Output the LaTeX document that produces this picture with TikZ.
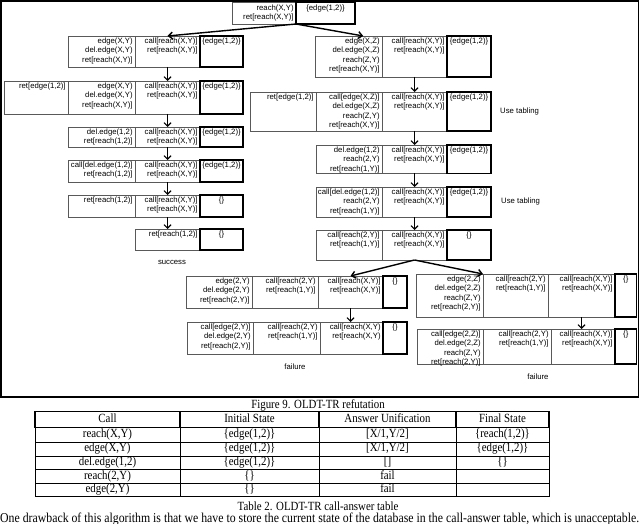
\documentclass[tikz,border=0pt]{standalone}
\usepackage{fontspec}
\setmainfont{Liberation Serif}
\newfontfamily\dgsans{Liberation Sans}
\newfontfamily\tabserif{Liberation Serif}[FakeStretch=0.87]
\usepackage{graphicx}
\usetikzlibrary{arrows.meta,calc}
\tikzset{
  cell/.style={draw=black!65, line width=0.6pt, inner sep=0pt, outer sep=0pt, anchor=north west},
  tcell/.style={draw=black, line width=1.7pt, inner sep=0pt, outer sep=0pt, anchor=north west},
  rtxt/.style={font=\dgsans\fontsize{7.75}{9.2}\selectfont, align=right, anchor=north east, inner sep=0pt},
  ctxt/.style={font=\dgsans\fontsize{7.75}{9.2}\selectfont, align=center, anchor=north, inner sep=0pt},
  note/.style={font=\dgsans\fontsize{7.75}{9.2}\selectfont, inner sep=0pt},
  arr/.style={line width=1.1pt, -{Straight Barb[length=3.5pt,width=7pt]}},
  brarr/.style={line width=1.4pt, -{Straight Barb[length=4pt,width=7pt]}},
  frameline/.style={line width=1.4pt},
  tabhead/.style={line width=1.8pt},
  tabrule/.style={line width=0.9pt},
  tab/.style={font=\tabserif\fontsize{12.5}{14}\selectfont, text height=8.2pt, text depth=2.5pt, inner sep=0pt, anchor=center},
  captxt/.style={font=\tabserif\fontsize{12.5}{14}\selectfont, inner sep=0pt, anchor=center}
}
\newcommand\dgbox[6]{%
  \node[cell, minimum width={(#4-#2)*1pt}, minimum height={(#5-#3)*1pt}] (#1) at (#2,#3) {};
  \node[rtxt] (#1t) at ([xshift=-2.2pt,yshift=-1.8pt]#1.north east) {#6};}
\newcommand\dgtbox[6]{%
  \node[tcell, minimum width={(#4-#2)*1pt}, minimum height={(#5-#3)*1pt}] (#1) at (#2,#3) {};
  \node[ctxt] (#1t) at ([yshift=-1.8pt]#1.north) {#6};}
\begin{document}
\begin{tikzpicture}[x=1pt,y=-1pt]
\useasboundingbox (0,0) rectangle (640,524);
% frame
\draw[frameline] (1,1) rectangle (638.3,397);
% top
\dgbox{T1}{232}{2.5}{296}{24}{reach(X,Y)\\ret[reach(X,Y)]}
\dgtbox{T2}{296}{2.5}{355}{24}{\{edge(1,2)\}}
% left column
\dgbox{L2a}{68}{36}{135}{67}{edge(X,Y)\\del.edge(X,Y)\\ret[reach(X,Y)]}
\dgbox{L2b}{135}{36}{200}{67}{call[reach(X,Y)]\\ret[reach(X,Y)]}
\dgtbox{L2c}{200}{36}{243}{67}{\{edge(1,2)\}}
\dgbox{L3a}{4}{81}{68}{114}{ret[edge(1,2)]}
\dgbox{L3b}{68}{81}{135}{114}{edge(X,Y)\\del.edge(X,Y)\\ret[reach(X,Y)]}
\dgbox{L3c}{135}{81}{200}{114}{call[reach(X,Y)]\\ret[reach(X,Y)]}
\dgtbox{L3d}{200}{81}{243}{114}{\{edge(1,2)\}}
\dgbox{L4a}{68}{127}{135}{147}{del.edge(1,2)\\ret[reach(1,2)]}
\dgbox{L4b}{135}{127}{200}{147}{call[reach(X,Y)]\\ret[reach(X,Y)]}
\dgtbox{L4c}{200}{127}{243}{147}{\{edge(1,2)\}}
\dgbox{L5a}{68}{160}{135}{182}{call[del.edge(1,2)]\\ret[reach(1,2)]}
\dgbox{L5b}{135}{160}{200}{182}{call[reach(X,Y)]\\ret[reach(X,Y)]}
\dgtbox{L5c}{200}{160}{243}{182}{\{edge(1,2)\}}
\dgbox{L6a}{68}{195}{135}{217}{ret[reach(1,2)]}
\dgbox{L6b}{135}{195}{200}{217}{call[reach(X,Y)]\\ret[reach(X,Y)]}
\dgtbox{L6c}{200}{195}{243}{217}{\{\}}
\dgbox{L7b}{135}{229}{200}{250}{ret[reach(1,2)]}
\dgtbox{L7c}{200}{229}{243}{250}{\{\}}
\node[note] (succ) at (172,262.3) {success};
% right column
\dgbox{R2a}{315}{36}{382}{77}{edge(X,Z)\\del.edge(X,Z)\\reach(Z,Y)\\ret[reach(X,Y)]}
\dgbox{R2b}{382}{36}{447}{77}{call[reach(X,Y)]\\ret[reach(X,Y)]}
\dgtbox{R2c}{447}{36}{491}{77}{\{edge(1,2)\}}
\dgbox{R3a}{250}{92}{316}{131}{ret[edge(1,2)]}
\dgbox{R3b}{316}{92}{382}{131}{call[edge(X,Z)]\\del.edge(X,Z)\\reach(Z,Y)\\ret[reach(X,Y)]}
\dgbox{R3c}{382}{92}{447}{131}{call[reach(X,Y)]\\ret[reach(X,Y)]}
\dgtbox{R3d}{447}{92}{491}{131}{\{edge(1,2)\}}
\node[note, anchor=west] (tab1) at (500,111.7) {Use tabling};
\dgbox{R4a}{316}{145}{382}{173.5}{del.edge(1,2)\\reach(2,Y)\\ret[reach(1,Y)]}
\dgbox{R4b}{382}{145}{447}{173.5}{call[reach(X,Y)]\\ret[reach(X,Y)]}
\dgtbox{R4c}{447}{145}{491}{173.5}{\{edge(1,2)\}}
\dgbox{R5a}{316}{187}{382}{217}{call[del.edge(1,2)]\\reach(2,Y)\\ret[reach(1,Y)]}
\dgbox{R5b}{382}{187}{447}{217}{call[reach(X,Y)]\\ret[reach(X,Y)]}
\dgtbox{R5c}{447}{187}{491}{217}{\{edge(1,2)\}}
\node[note, anchor=west] (tab2) at (501,201) {Use tabling};
\dgbox{R6a}{316}{230}{382}{260}{call[reach(2,Y)]\\ret[reach(1,Y)]}
\dgbox{R6b}{382}{230}{447}{260}{call[reach(X,Y)]\\ret[reach(X,Y)]}
\dgtbox{R6c}{447}{230}{491}{260}{\{\}}
% bottom left group
\dgbox{BL1a}{186}{276}{252}{308}{edge(2,Y)\\del.edge(2,Y)\\ret[reach(2,Y)]}
\dgbox{BL1b}{252}{276}{318}{308}{call[reach(2,Y)\\ret[reach(1,Y)]}
\dgbox{BL1c}{318}{276}{383}{308}{call[reach(X,Y)]\\ret[reach(X,Y)]}
\dgtbox{BL1d}{383}{276}{407}{308}{\{\}}
\dgbox{BL2a}{187}{322}{253}{354}{call[edge(2,Y)]\\del.edge(2,Y)\\ret[reach(2,Y)]}
\dgbox{BL2b}{253}{322}{320}{354}{call[reach(2,Y)\\ret[reach(1,Y)]}
\dgbox{BL2c}{320}{322}{383}{354}{call[reach(X,Y)\\ret[reach(X,Y)}
\dgtbox{BL2d}{383}{322}{407}{354}{\{\}}
\node[note] (fail1) at (295,366.7) {failure};
% bottom right group
\dgbox{BR1a}{416}{274}{483}{317}{edge(2,Z)\\del.edge(2,Z)\\reach(Z,Y)\\ret[reach(2,Y)]}
\dgbox{BR1b}{483}{274}{548}{317}{call[reach(2,Y)\\ret[reach(1,Y)]}
\dgbox{BR1c}{548}{274}{615}{317}{call[reach(X,Y)]\\ret[reach(X,Y)]}
\dgtbox{BR1d}{615}{274}{636.5}{317}{\{\}}
\dgbox{BR2a}{417}{329}{483}{364}{call[edge(2,Z)]\\del.edge(2,Z)\\reach(Z,Y)\\ret[reach(2,Y)]}
\dgbox{BR2b}{483}{329}{551}{364}{call[reach(2,Y)\\ret[reach(1,Y)]}
\dgbox{BR2c}{551}{329}{615}{364}{call[reach(X,Y)]\\ret[reach(X,Y)]}
\dgtbox{BR2d}{615}{329}{636.5}{364}{\{\}}
\node[note] (fail2) at (538,376.7) {failure};
% connectors
\draw[brarr] (T1.south east) -- (L2b.north);
\draw[brarr] (T1.south east) -- ($(R2a.north west)!0.72!(R2a.north east)$);
\draw[arr] (L2b.south) -- (L3c.north);
\draw[arr] (L3c.south) -- (L4b.north);
\draw[arr] (L4b.south) -- (L5b.north);
\draw[arr] (L5b.south) -- (L6b.north);
\draw[arr] (L6b.south) -- (L7b.north);
\draw[arr] (R2b.south) -- (R3c.north);
\draw[arr] (R3c.south) -- (R4b.north);
\draw[arr] (R4b.south) -- (R5b.north);
\draw[arr] (R5b.south) -- (R6b.north);
\draw[brarr] (R6b.south) -- (BL1c.north);
\draw[brarr] (R6b.south) -- (BR1b.north west);
\draw[arr] (BL1c.south) -- (BL1c.south |- BL2c.north);
\draw[arr] (BR1c.south) -- (BR1c.south |- BR2c.north);
% caption
\node[captxt] (cap1) at (318,405) {Figure 9. OLDT-TR refutation};
% table
\draw[tabrule] (35,427.5) rectangle (549,496.5);
\foreach \yy in {442,456,469.5,483} \draw[tabrule] (35,\yy) -- (549,\yy);
\foreach \xx in {180,319,456} \draw[tabrule] (\xx,427.5) -- (\xx,496.5);
\draw[tabhead] (35,411.5) rectangle (549,427.5);
\foreach \xx in {180,319,456} \draw[tabhead] (\xx,411.5) -- (\xx,427.5);
\node[tab] (h1) at (107.5,419.5) {Call};
\node[tab] (h2) at (249.5,419.5) {Initial State};
\node[tab] (h3) at (387.5,419.5) {Answer Unification};
\node[tab] (h4) at (502.5,419.5) {Final State};
\node[tab] (a1) at (107.5,434.75) {reach(X,Y)};
\node[tab] (a2) at (249.5,434.75) {\{edge(1,2)\}};
\node[tab] (a3) at (387.5,434.75) {[X/1,Y/2]};
\node[tab] (a4) at (502.5,434.75) {\{reach(1,2)\}};
\node[tab] (b1) at (107.5,449) {edge(X,Y)};
\node[tab] (b2) at (249.5,449) {\{edge(1,2)\}};
\node[tab] (b3) at (387.5,449) {[X/1,Y/2]};
\node[tab] (b4) at (502.5,449) {\{edge(1,2)\}};
\node[tab] (c1) at (107.5,462.75) {del.edge(1,2)};
\node[tab] (c2) at (249.5,462.75) {\{edge(1,2)\}};
\node[tab] (c3) at (387.5,462.75) {[]};
\node[tab] (c4) at (502.5,462.75) {\{\}};
\node[tab] (d1) at (107.5,476.25) {reach(2,Y)};
\node[tab] (d2) at (249.5,476.25) {\{\}};
\node[tab] (d3) at (387.5,476.25) {fail};
\node[tab] (e1) at (107.5,489.75) {edge(2,Y)};
\node[tab] (e2) at (249.5,489.75) {\{\}};
\node[tab] (e3) at (387.5,489.75) {fail};
\node[captxt] (cap2) at (318,506.5) {Table 2. OLDT-TR call-answer table};
\node[inner sep=0pt, anchor=base west] (para) at (0,522.5) {\resizebox{639pt}{!}{\tabserif\fontsize{12.5}{14}\selectfont One drawback of this algorithm is that we have to store the current state of the database in the call-answer table, which is unacceptable.}};
\end{tikzpicture}
\end{document}
